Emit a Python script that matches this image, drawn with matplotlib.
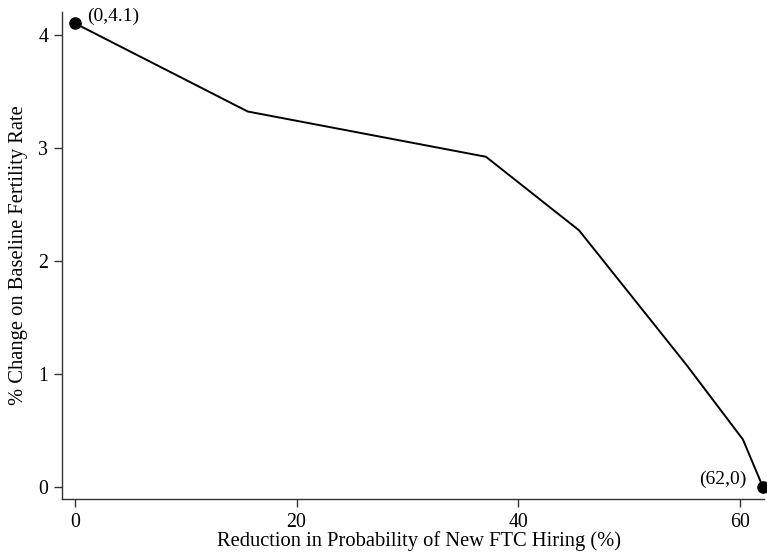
import matplotlib.pyplot as plt

plt.rcParams['font.family'] = ['Liberation Serif', 'DejaVu Serif']

# reduction in hiring probability (%) vs change in fertility (%)
reduction = [0, 15.6, 37.1, 45.5, 55.2, 60.3, 62.1]
fert_change = [4.1, 3.32, 2.92, 2.27, 1.08, 0.42, 0.0]

end_x = [0, 62.1]
end_y = [4.1, 0.0]
end_labels = ['(0,4.1)', '(62,0)']

fig = plt.figure(figsize=(7.67, 5.58), dpi=100)
ax = fig.add_axes([62 / 767, 59 / 558, 702 / 767, 487 / 558])

ax.plot(reduction, fert_change, color='black', linewidth=1.4)
ax.scatter(end_x, end_y, s=65, color='black', zorder=3, clip_on=False)

ax.annotate(end_labels[0], (end_x[0], end_y[0]), xytext=(9, -1),
            textcoords='offset points', ha='left', va='bottom', fontsize=14)
ax.annotate(end_labels[1], (end_x[1], end_y[1]), xytext=(-12, -1),
            textcoords='offset points', ha='right', va='bottom', fontsize=14)

ax.set_xlim(-1.17, 62.2)
ax.set_ylim(-0.106, 4.2)
ax.set_xticks([0, 20, 40, 60])
ax.set_yticks([0, 1, 2, 3, 4])

for side in ['top', 'right']:
    ax.spines[side].set_visible(False)
for side in ['left', 'bottom']:
    ax.spines[side].set_color('#333333')
    ax.spines[side].set_linewidth(1.0)

ax.tick_params(direction='out', length=6, width=1.0, color='#333333',
               labelsize=14.3, pad=4)
ax.set_xlabel('Reduction in Probability of New FTC Hiring (%)', fontsize=14.75)
ax.xaxis.set_label_coords(0.508, -0.066)
ax.set_ylabel('% Change on Baseline Fertility Rate', fontsize=14.75, labelpad=7)

fig.savefig('out.png', dpi=100)
